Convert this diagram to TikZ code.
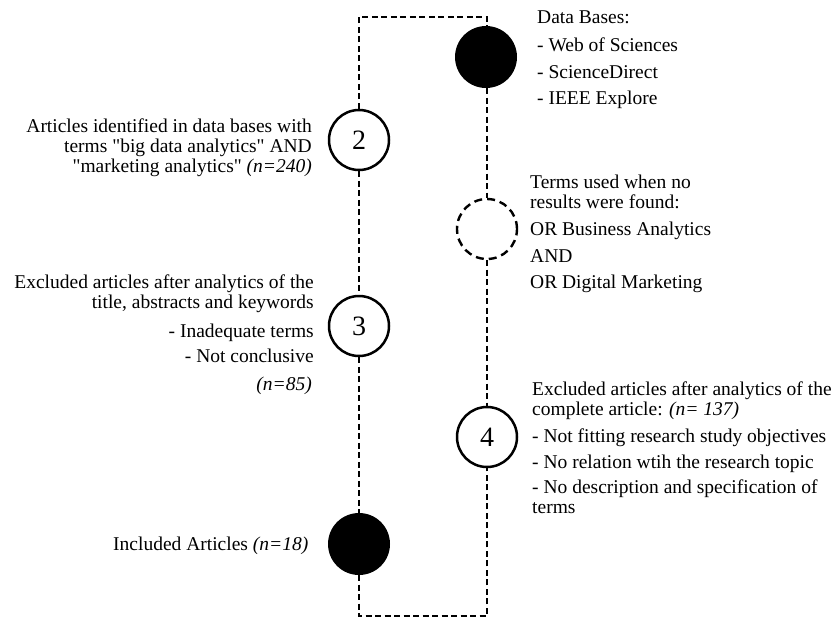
\documentclass[tikz,border=0pt]{standalone}
\usepackage{fontspec}
\setmainfont{Liberation Serif}[Ligatures=TeXOff]
\newcommand{\dq}{\symbol{34}}
\begin{document}
\begin{tikzpicture}[x=1pt,y=-1pt,
  conn/.style={line width=2.4pt, dash pattern=on 6pt off 3.5pt},
  hollow/.style={circle, draw, line width=2.5pt, minimum size=60pt, inner sep=0pt, font=\fontsize{28}{30}\selectfont},
  filled/.style={circle, fill=black, minimum size=62pt, inner sep=0pt},
  dcirc/.style={circle, draw, line width=2.4pt, dash pattern=on 8pt off 5pt, minimum size=60pt, inner sep=0pt},
  ltxt/.style={inner sep=0pt, anchor=base east, font=\fontsize{19.5}{20}\selectfont},
  rtxt/.style={inner sep=0pt, anchor=base west, font=\fontsize{19.5}{20}\selectfont}]
\useasboundingbox (0,0) rectangle (836,618);

% circles
\node[filled] (c1) at (486,57) {};
\node[hollow] (c2) at (359,140) {2};
\node[dcirc]  (c5) at (487,229) {};
\node[hollow] (c3) at (359,326) {3};
\node[hollow] (c4) at (487,437) {4};
\node[filled] (c6) at (359,544) {};

\coordinate (tl) at (359,17);
\coordinate (tr) at (487,17);
\coordinate (bl) at (359,616);
\coordinate (br) at (487,616);

% connectors
\draw[conn] (c2.north) -- (tl) -- (tr) -- (c1.north -| tr);
\draw[conn] (c2.south) -- (c3.north);
\draw[conn] (c3.south) -- (c6.north);
\draw[conn] (c6.south) -- (bl) -- (br) -- (c4.south);
\draw[conn] (c1.south -| c5.north) -- (c5.north);
\draw[conn] (c5.south) -- (c4.north);

% top right text
\node[rtxt] (a1) at (537,24) {Data Bases:};
\node[rtxt] (a2) at (537,52) {- Web of Sciences};
\node[rtxt] (a3) at (537,78) {- ScienceDirect};
\node[rtxt] (a4) at (537,104) {- IEEE Explore};

% block 2
\node[ltxt] (b1) at (312,132) {Articles identified in data bases with};
\node[ltxt] (b2) at (312,152) {terms \dq big data analytics\dq{} AND};
\node[ltxt] (b3) at (312,172) {\dq marketing analytics\dq{} \textit{(n=240)}};

% dashed circle text
\node[rtxt] (d1) at (530,188) {Terms used when no};
\node[rtxt] (d2) at (530,208) {results were found:};
\node[rtxt] (d3) at (530,235) {OR Business Analytics};
\node[rtxt] (d4) at (530,262) {AND};
\node[rtxt] (d5) at (530,288) {OR Digital Marketing};

% block 3
\node[ltxt] (e1) at (314,288) {Excluded articles after analytics of the};
\node[ltxt] (e2) at (314,308) {title, abstracts and keywords};
\node[ltxt] (e3) at (314,337) {- Inadequate terms};
\node[ltxt] (e4) at (314,362) {- Not conclusive};
\node[ltxt] (e5) at (312,390) {\textit{(n=85)}};

% block 4
\node[rtxt] (f1) at (532,395) {Excluded articles after analytics of the};
\node[rtxt] (f2) at (532,415) {complete article: \textit{(n= 137)}};
\node[rtxt] (f3) at (532,442) {- Not fitting research study objectives};
\node[rtxt] (f4) at (532,468) {- No relation wtih the research topic};
\node[rtxt] (f5) at (532,493) {- No description and specification of};
\node[rtxt] (f6) at (532,513) {terms};

% included
\node[rtxt] (g1) at (113,550) {Included Articles \textit{(n=18)}};
\end{tikzpicture}
\end{document}
